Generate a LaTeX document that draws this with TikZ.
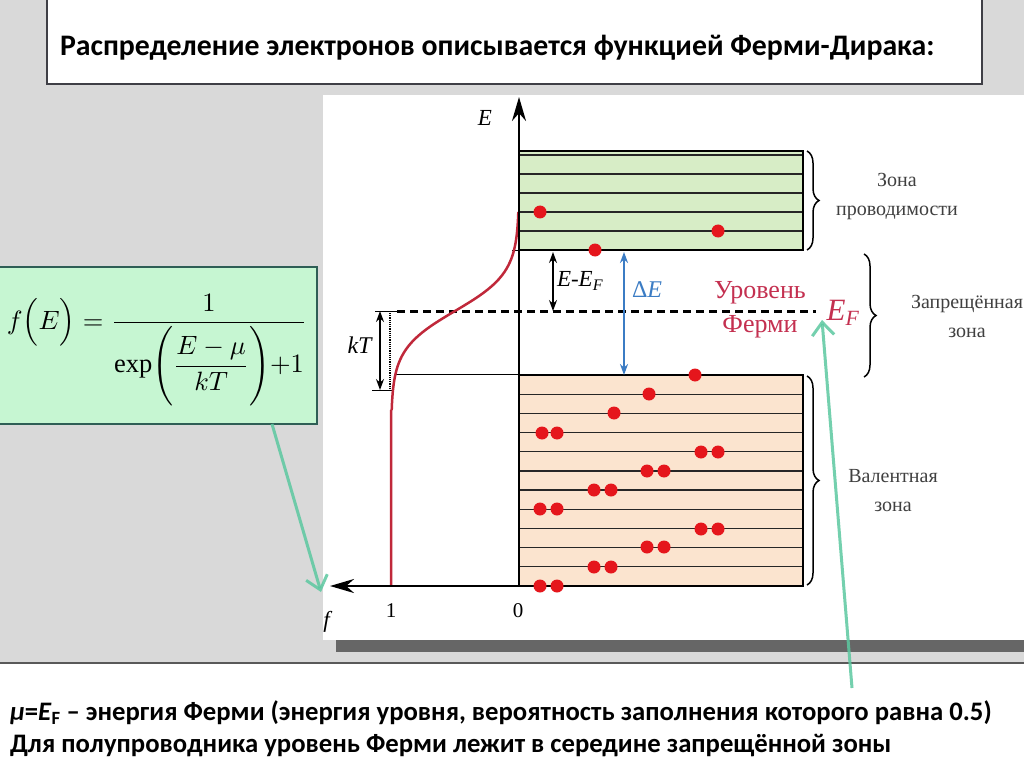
\documentclass[tikz,border=0pt]{standalone}
\usepackage{fontspec}
\setmainfont{Liberation Serif}
\newfontfamily\slidefont{Carlito}
\usetikzlibrary{arrows.meta,decorations.pathreplacing,positioning}
\definecolor{slidegray}{HTML}{D9D9D9}
\definecolor{framegray}{HTML}{3F3F46}
\definecolor{condgreen}{HTML}{D7EDC6}
\definecolor{valpeach}{HTML}{FBE4CF}
\definecolor{elred}{HTML}{E5161C}
\definecolor{curvered}{HTML}{C0283A}
\definecolor{fermired}{HTML}{C43050}
\definecolor{gapblue}{HTML}{3B7CC4}
\definecolor{hintgreen}{HTML}{5CC8A0}
\definecolor{formulagreen}{HTML}{C6F6D2}
\definecolor{formulaframe}{HTML}{2E5E55}
\tikzset{
  bandline/.style={line width=1.2pt,black!85},
  electron/.style={circle,fill=elred,minimum size=13pt,inner sep=0pt},
  zonebrace/.style={decorate,decoration={brace,amplitude=12pt},line width=1.5pt},
  zonelabel/.style={font=\fontsize{20}{29}\selectfont,align=center,text=black!75},
  axislbl/.style={font=\fontsize{23}{26}\selectfont},
  hint/.style={draw=hintgreen,line width=3pt,opacity=.85,-{Straight Barb[length=13pt,width=22pt]}},
  slidetext/.style={font=\slidefont\bfseries\fontsize{26.7}{30}\selectfont,anchor=west}
}
\begin{document}
\begin{tikzpicture}[x=1pt,y=-1pt,>={Stealth[length=11pt,width=8pt]},every node/.style={inner sep=0pt,outer sep=0pt}]
  \useasboundingbox (0,0) rectangle (1024,767);
  % slide background
  \fill[slidegray] (0,0) rectangle (1024,662);
  \fill[black!65] (0,662) rectangle (1024,664);
  \fill[white] (0,664) rectangle (1024,767);
  \fill[white] (323,95) rectangle (1024,640);
  \fill[black!60] (336,640) rectangle (1024,652);
  % title frame
  \draw[framegray,line width=2pt,fill=white] (47,-5) rectangle (982,84);
  \node[slidetext,font=\slidefont\bfseries\fontsize{29.8}{34}\selectfont] (title) at (60,48) {Распределение электронов описывается функцией Ферми-Дирака:};
  % formula box
  \draw[formulaframe,line width=2.5pt,fill=formulagreen] (-5,267) rectangle (317,424);
  \node (formula) at (157,350) {\scalebox{2.65}{$\displaystyle f\Bigl(E\Bigr)=\frac{1}{\exp\Biggl({\displaystyle\frac{E-\mu}{kT}}\Biggr){+}1}$}};
  \coordinate (fboxbot) at (272,424);
  % bands
  \fill[condgreen] (519,151) rectangle (803,250);
  \fill[valpeach] (519,375) rectangle (803,586);
  \foreach \ly in {155,174,193,212,231}
    \draw[bandline] (519,\ly) -- (803,\ly);
  \foreach \k in {1,...,10}
    \draw[bandline] (519,{375+19.18*\k}) -- (803,{375+19.18*\k});
  \draw[line width=1.4pt] (519,151) rectangle (803,250);
  \draw[line width=1.4pt] (519,375) rectangle (803,586);
  \draw[line width=1pt] (512,250) -- (519,250);
  \draw[line width=1pt] (395,374) -- (519,374);
  % Fermi level
  \draw[line width=3pt,dash pattern=on 8pt off 5pt] (397,311) -- (816,311);
  \draw[line width=1pt] (375,311) -- (397,311);
  \draw[line width=1pt] (372,390) -- (393,390);
  \draw[densely dotted,line width=1.2pt] (390,313) -- (390,388);
  % Fermi function
  \draw[curvered,line width=2.5pt] (391,586) -- (391,410)
    plot[domain=410:212,samples=60,variable=\t] ({391+128/(1+exp((\t-311)/19))},\t);
  % axes
  \coordinate (origin) at (519,586);
  \coordinate (Etip) at (519,97);
  \coordinate (ftip) at (330,586);
  \draw[line width=2.5pt,-{Stealth[length=24pt,width=14pt]}] (origin) -- (Etip);
  \draw[line width=2.5pt,-{Stealth[length=24pt,width=14pt]}] (origin) -- (ftip);
  \node[axislbl] (Elbl) at (485,118) {\textit{E}};
  \node[axislbl,font=\fontsize{21}{24}\selectfont] (onelbl) at (391,611) {1};
  \node[axislbl,font=\fontsize{21}{24}\selectfont] (zerolbl) at (518,611) {0};
  \node[axislbl] (flbl) at (328,622) {\textit{f}};
  % kT, E-E_F and gap arrows
  \coordinate (kTtop) at (380,311);
  \coordinate (kTbot) at (380,390);
  \draw[<->,line width=1.3pt] (kTtop) -- (kTbot);
  \node[axislbl,font=\fontsize{24}{26}\selectfont,anchor=east] (kTlbl) at (373,345) {\textit{kT}};
  \coordinate (cbot) at (553,252);
  \coordinate (flvl) at (553,311);
  \draw[<->,line width=1.3pt] (cbot) -- (flvl);
  \node[axislbl,anchor=west] (EmEF) at (557,281) {\textit{E}-\textit{E}\textsubscript{\textit{F}}};
  \coordinate (gaptop) at (624,252);
  \coordinate (gapbot) at (624,375);
  \draw[<->,gapblue,line width=2.5pt] (gaptop) -- (gapbot);
  \node[axislbl,font=\fontsize{24}{26}\selectfont,anchor=west,text=gapblue] (dE) at (632,290) {Δ\textit{E}};
  \node[font=\fontsize{26}{34}\selectfont,align=center,text=fermired] (level) at (760,310) {Уровень\\Ферми};
  \node[font=\fontsize{31}{34}\selectfont,text=fermired] (EF) at (843,313) {\textit{E}\textsubscript{\textit{F}}};
  % electrons
  \foreach \ex/\ey [count=\i] in {540/212,595/250,718/231,695/375,649/394,614/413,542/433,557/433,701/452,718/452,647/471,664/471,594/490,611/490,540/509,557/509,701/529,718/529,647/547,664/547,594/567,611/567,540/586,557/586}
    \node[electron] (e\i) at (\ex,\ey) {};
  % zone braces
  \draw[zonebrace] (807,151) -- (807,250);
  \draw[zonebrace] (864,254) -- (864,377);
  \draw[zonebrace] (807,376) -- (807,585);
  \node[zonelabel] (cond) at (897,197) {Зона\\проводимости};
  \node[zonelabel] (gap) at (967,316) {Запрещённая\\зона};
  \node[zonelabel] (val) at (893,491) {Валентная\\зона};
  % hints
  \coordinate (faxisend) at (321,592);
  \coordinate (hintfoot) at (852,688);
  \coordinate (EFfoot) at (822,320);
  \draw[hint] (fboxbot) -- (faxisend);
  \draw[hint] (hintfoot) -- (EFfoot);
  % notes
  \node[slidetext] (note1) at (10,713) {\textit{μ}=\textit{E}\textsubscript{F} – энергия Ферми (энергия уровня, вероятность заполнения которого равна 0.5)};
  \node[slidetext] (note2) at (10,746) {Для полупроводника уровень Ферми лежит в середине запрещённой зоны};
\end{tikzpicture}
\end{document}
